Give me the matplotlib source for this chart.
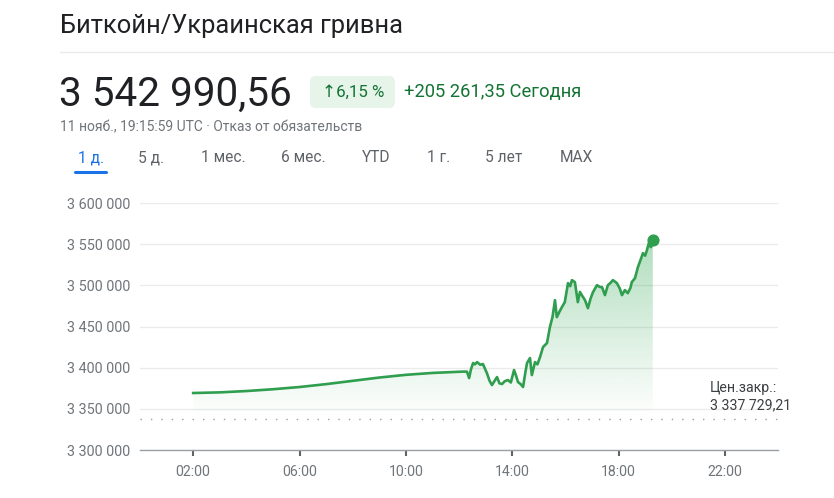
import matplotlib
matplotlib.use("Agg")
import matplotlib.pyplot as plt
import numpy as np
from matplotlib.patches import FancyBboxPatch
from matplotlib.colors import LinearSegmentedColormap
from matplotlib.transforms import IdentityTransform

plt.rcParams['font.family'] = ['Roboto', 'DejaVu Sans']

# ---- data ----
hours = [2.0, 3.0, 4.0, 5.0, 6.0, 7.0, 8.0, 9.0, 10.0, 11.0, 12.0, 12.15,
         12.3, 12.38, 12.45, 12.53, 12.6, 12.68, 12.8, 12.9, 13.0, 13.05, 13.15, 13.24,
         13.32, 13.43, 13.52, 13.62, 13.72, 13.84, 13.95, 14.07, 14.15, 14.22, 14.32, 14.41,
         14.5, 14.56, 14.67, 14.74, 14.86, 14.95, 15.05, 15.16, 15.31, 15.42, 15.52, 15.61,
         15.68, 15.78, 15.87, 15.98, 16.10, 16.18, 16.25, 16.36, 16.47, 16.55, 16.62, 16.74,
         16.85, 16.95, 17.04, 17.19, 17.30, 17.38, 17.49, 17.60, 17.70, 17.79, 17.94, 18.05,
         18.13, 18.24, 18.35, 18.45, 18.50, 18.62, 18.73, 18.82, 18.92, 19.0, 19.07, 19.14,
         19.22, 19.29]
prices = [3369.2, 3370.0, 3371.6, 3373.8, 3376.5, 3380.0, 3384.0, 3388.0, 3391.3, 3393.6, 3395.0, 3395.2,
          3395.2, 3387.4, 3398.0, 3405.6, 3404.0, 3406.8, 3403.5, 3404.4, 3397.0, 3393.4, 3384.0, 3378.9,
          3383.0, 3388.6, 3381.0, 3380.1, 3383.5, 3385.0, 3382.0, 3397.1, 3390.0, 3382.5, 3380.0, 3376.5,
          3395.0, 3405.6, 3411.7, 3391.0, 3406.8, 3404.0, 3412.9, 3425.0, 3429.9, 3449.3, 3462.0, 3482.0,
          3461.4, 3468.0, 3473.5, 3479.6, 3502.7, 3499.0, 3506.3, 3503.9, 3479.6, 3492.0, 3488.1, 3482.0,
          3472.3, 3484.0, 3491.7, 3500.2, 3498.0, 3497.8, 3488.1, 3500.2, 3503.0, 3506.3, 3502.7, 3496.0,
          3488.1, 3494.2, 3490.5, 3497.0, 3503.9, 3508.7, 3522.1, 3530.0, 3539.1, 3536.0, 3542.7, 3551.2,
          3546.4, 3554.9]
prices = [p * 1000 for p in prices]
prev_close = 3337729.21
y_ticks = [3300000, 3350000, 3400000, 3450000, 3500000, 3550000, 3600000]
x_ticks = [2, 6, 10, 14, 18, 22]
x_tick_labels = ["02:00", "06:00", "10:00", "14:00", "18:00", "22:00"]
tabs = ["1 д.", "5 д.", "1 мес.", "6 мес.", "YTD", "1 г.", "5 лет", "MAX"]
tab_x = [78, 138, 201, 281, 362, 427, 485, 560]

W, H = 834, 498
LINE = '#2f9e4f'

fig = plt.figure(figsize=(W / 100, H / 100), dpi=100)
fig.patch.set_facecolor('white')

def T(x, y, s, **kw):
    kw.setdefault('va', 'center')
    fig.text(x / W, 1 - y / H, s, **kw)

# ---- header ----
T(60, 26, "Биткойн/Украинская гривна", fontsize=18.4, color='#202124')
fig.add_artist(plt.Line2D([60 / W, 1.0], [1 - 52 / H, 1 - 52 / H], color='#e8eaed', lw=1))
T(59, 94, "3 542 990,56", fontsize=29.2, color='#202124')
badge = FancyBboxPatch((310, H - 108), 85, 32, boxstyle="round,pad=0,rounding_size=6",
                       transform=IdentityTransform(), facecolor='#e6f4ea', edgecolor='none')
fig.add_artist(badge)
T(353, 92, "↑6,15 %", fontsize=12.2, color='#137333', ha='center')
T(404, 92, "+205 261,35 Сегодня", fontsize=13.2, color='#137333', fontweight='normal')
T(60, 127, "11 нояб., 19:15:59 UTC · Отказ от обязательств", fontsize=10, color='#70757a')
for i, (tx, lab) in enumerate(zip(tab_x, tabs)):
    T(tx, 158, lab, fontsize=11.2, color='#1a73e8' if i == 0 else '#5f6368')
fig.add_artist(plt.Line2D([75 / W, 106 / W], [1 - 172 / H, 1 - 172 / H], color='#1a73e8', lw=2.2,
                          solid_capstyle='round'))

# ---- chart ----
ax = fig.add_axes([140 / W, 1 - 450 / H, 638 / W, 247 / H])
ax.set_facecolor('none')

poly = ax.fill_between(hours, prices, 3300000, color='none', lw=0)
grad = np.linspace(0, 1, 256).reshape(-1, 1)
cmap = LinearSegmentedColormap.from_list('g', [(0.20, 0.66, 0.33, 0.0), (0.20, 0.66, 0.33, 0.38)])
im = ax.imshow(grad, extent=[hours[0], hours[-1], 3340000, max(prices)], origin='lower',
               aspect='auto', cmap=cmap, zorder=1, interpolation='bilinear')
im.set_clip_path(poly.get_paths()[0], transform=ax.transData)

ax.plot(hours, prices, color=LINE, lw=1.9, zorder=3, solid_joinstyle='round')
ax.scatter([hours[-1]], [prices[-1]], s=60, color=LINE, zorder=4)
ax.axhline(prev_close, color='#9aa0a6', lw=1, ls=(0, (1, 6.5)), zorder=2)

ax.set_xlim(0, 24)
ax.set_ylim(3300000, 3600000)
ax.set_yticks(y_ticks)
ax.set_yticklabels([f"{v:,}".replace(",", " ") for v in y_ticks])
ax.set_xticks(x_ticks)
ax.set_xticklabels(x_tick_labels)
ax.grid(axis='y', color='#ebebeb', lw=1)
ax.set_axisbelow(True)
for s in ['top', 'right', 'left']:
    ax.spines[s].set_visible(False)
ax.spines['bottom'].set_color('#9aa0a6')
ax.spines['bottom'].set_linewidth(1)
ax.tick_params(axis='y', length=0, pad=7, labelsize=10.4, labelcolor='#70757a')
ax.tick_params(axis='x', length=4, width=1.5, color='#5f6368', pad=7, labelsize=10.2,
               labelcolor='#70757a')

T(710, 388, "Цен.закр.:", fontsize=10.2, color='#3c4043')
T(710, 405, "3 337 729,21", fontsize=10.2, color='#3c4043')

fig.savefig("out.png", dpi=100)
